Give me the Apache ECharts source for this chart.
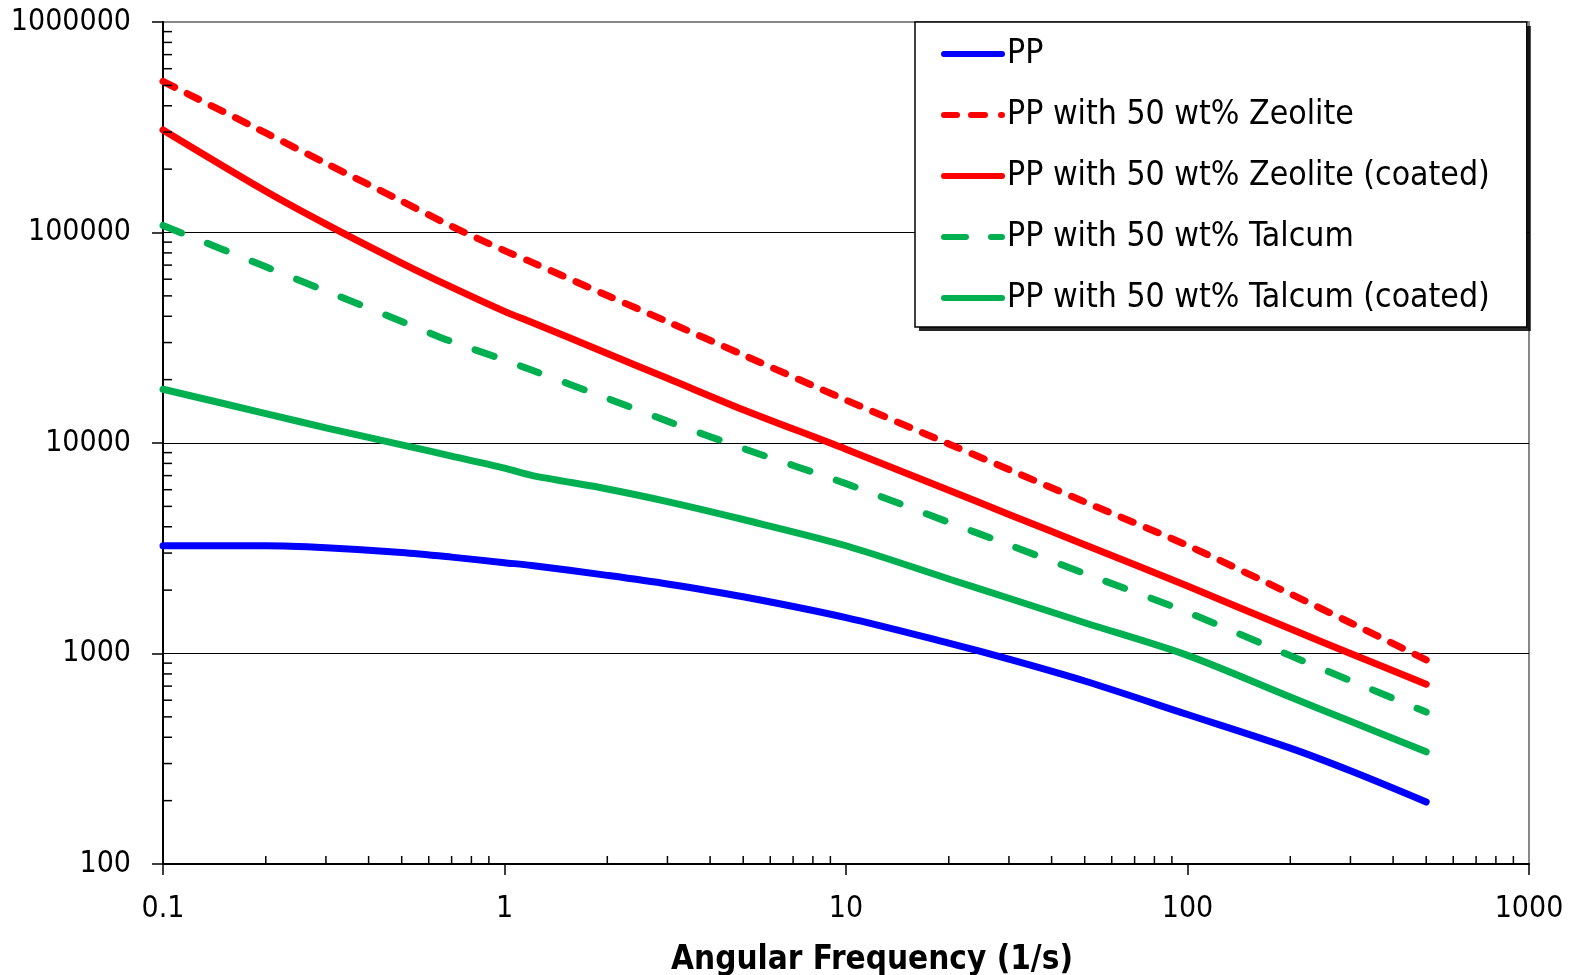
<!DOCTYPE html>
<html>
<head>
<meta charset="utf-8">
<script src="https://cdn.jsdelivr.net/npm/echarts@6/dist/echarts.min.js"></script>
<style>
  html, body { margin: 0; padding: 0; background: #fff; }
  #chart { width: 1583px; height: 975px; }
</style>
</head>
<body>
<div id="chart"></div>
<script>
// angular frequency (1/s)
const freq = [0.1, 0.2, 0.3, 0.5, 0.7, 1, 1.2, 2, 3, 5, 10, 20, 30, 50, 100, 200, 300, 500];

const pp = [3250, 3250, 3180, 3020, 2870, 2700, 2620, 2350, 2140, 1860, 1480, 1120, 940, 740, 513, 355, 277, 197];
const zeolite = [522000, 297000, 213000, 141000, 107000, 82000, 72300, 50200, 37700, 26200, 16000, 9900, 7480, 5250, 3260, 1920, 1400, 933];
const zeoliteCoated = [307000, 157000, 109600, 71600, 55000, 42200, 37500, 26600, 20300, 14400, 9350, 5960, 4580, 3290, 2090, 1310, 1000, 715];
const talcum = [108000, 68700, 52700, 37800, 30300, 24800, 22200, 16300, 12700, 9420, 6410, 4200, 3280, 2400, 1570, 977, 743, 527];
const talcumCoated = [18000, 13800, 11800, 9800, 8670, 7590, 7020, 6050, 5270, 4330, 3250, 2260, 1830, 1400, 980, 621, 476, 341];

const names = [
  'PP',
  'PP with 50 wt% Zeolite',
  'PP with 50 wt% Zeolite (coated)',
  'PP with 50 wt% Talcum',
  'PP with 50 wt% Talcum (coated)'
];

// minor tick values for both log axes
const xMinorTicks = [0.2, 0.3, 0.4, 0.5, 0.6, 0.7, 0.8, 0.9, 2, 3, 4, 5, 6, 7, 8, 9,
  20, 30, 40, 50, 60, 70, 80, 90, 200, 300, 400, 500, 600, 700, 800, 900];
const yMinorTicks = [200, 300, 400, 500, 600, 700, 800, 900, 2000, 3000, 4000, 5000, 6000, 7000, 8000, 9000,
  20000, 30000, 40000, 50000, 60000, 70000, 80000, 90000, 200000, 300000, 400000, 500000, 600000, 700000, 800000, 900000];

const font = '"DejaVu Sans Condensed", "DejaVu Sans", sans-serif';

// legend swatches (64 x 6 box): solid bar, short dashes + dot, long dash + dot
const iconSolid = 'path://M3,0 H61 A3,3 0 0 1 61,6 H3 A3,3 0 0 1 3,0 Z';
const iconShortDash = 'path://M3,0 H16 A3,3 0 0 1 16,6 H3 A3,3 0 0 1 3,0 Z M30,0 H44 A3,3 0 0 1 44,6 H30 A3,3 0 0 1 30,0 Z M60,0 H61 A3,3 0 0 1 61,6 H60 A3,3 0 0 1 60,0 Z';
const iconLongDash = 'path://M3,0 H25 A3,3 0 0 1 25,6 H3 A3,3 0 0 1 3,0 Z M50,0 H61 A3,3 0 0 1 61,6 H50 A3,3 0 0 1 50,0 Z';
const icons = [iconSolid, iconShortDash, iconSolid, iconLongDash, iconSolid];

const pairs = arr => freq.map((f, i) => [f, arr[i]]);

const lineSeries = (name, data, color, type) => ({
  name: name,
  type: 'line',
  data: pairs(data),
  symbol: 'none',
  smooth: 0.3,
  lineStyle: { color: color, width: 7, type: type, cap: 'round', join: 'round' },
  itemStyle: { color: color },
  z: 5
});

// shared legend layout; the first copy only casts the box shadow, the second draws border and items
const legendBase = {
  data: names.map((n, i) => ({ name: n, icon: icons[i] })),
  orient: 'vertical',
  left: 915,
  top: 22,
  itemWidth: 64,
  itemHeight: 6,
  itemGap: 27,
  padding: [15, 37, 12, 26],
  textStyle: { fontFamily: font, fontSize: 33.5, color: '#000', padding: [0, 0, 0, -3] }
};

const chart = echarts.init(document.getElementById('chart'));
const option = {
  animation: false,
  backgroundColor: '#fff',
  grid: {
    left: 163, right: 54, top: 22, bottom: 111,
    outerBoundsMode: 'none',
    show: true, borderColor: '#888', borderWidth: 2, backgroundColor: '#fff'
  },
  legend: [
    Object.assign({}, legendBase, {
      backgroundColor: '#fff',
      borderWidth: 0,
      shadowColor: 'rgba(0,0,0,0.85)',
      shadowOffsetX: 4,
      shadowOffsetY: 4,
      shadowBlur: 0,
      itemStyle: { opacity: 0 },
      textStyle: Object.assign({}, legendBase.textStyle, { color: 'rgba(0,0,0,0)' }),
      z: 9
    }),
    Object.assign({}, legendBase, {
      backgroundColor: 'rgba(0,0,0,0)',
      borderColor: '#000',
      borderWidth: 1.5,
      z: 10
    })
  ],
  xAxis: {
    type: 'log',
    logBase: 10,
    min: 0.1,
    max: 1000,
    name: 'Angular Frequency (1/s)',
    nameLocation: 'middle',
    nameGap: 80,
    nameTextStyle: { fontFamily: font, fontSize: 33, fontWeight: 'bold', color: '#000', padding: [0, 0, 0, 52] },
    axisLine: { lineStyle: { color: '#000', width: 2 } },
    axisTick: { show: true, inside: false, length: 11, lineStyle: { color: '#000', width: 1.5 } },
    axisLabel: {
      fontFamily: font, fontSize: 30, color: '#000', margin: 30,
      formatter: v => String(Number(v.toPrecision(3)))
    },
    splitLine: { show: false },
    minorTick: { show: false }
  },
  yAxis: {
    type: 'log',
    logBase: 10,
    min: 100,
    max: 1000000,
    axisLine: { lineStyle: { color: '#000', width: 2 } },
    axisTick: { show: true, inside: false, length: 11, lineStyle: { color: '#000', width: 1.5 } },
    axisLabel: {
      fontFamily: font, fontSize: 30, color: '#000', margin: 32,
      formatter: v => String(Math.round(v))
    },
    splitLine: { show: true, showMinLine: false, showMaxLine: false, lineStyle: { color: '#000', width: 1.2 } },
    minorTick: { show: false }
  },
  series: [
    lineSeries(names[0], pp, '#0000ff', 'solid'),
    lineSeries(names[1], zeolite, '#ff0000', [13, 14]),
    lineSeries(names[2], zeoliteCoated, '#ff0000', 'solid'),
    lineSeries(names[3], talcum, '#00b050', [20, 28]),
    lineSeries(names[4], talcumCoated, '#00b050', 'solid'),
    {
      name: 'xMinor',
      type: 'custom',
      silent: true,
      clip: false,
      data: xMinorTicks.map(v => [v, 100]),
      renderItem: (params, api) => {
        const p = api.coord([api.value(0), api.value(1)]);
        return {
          type: 'line',
          shape: { x1: p[0], y1: p[1], x2: p[0], y2: p[1] - 8 },
          style: { stroke: '#000', lineWidth: 1.5 }
        };
      },
      z: 6
    },
    {
      name: 'yMinor',
      type: 'custom',
      silent: true,
      clip: false,
      data: yMinorTicks.map(v => [0.1, v]),
      renderItem: (params, api) => {
        const p = api.coord([api.value(0), api.value(1)]);
        return {
          type: 'line',
          shape: { x1: p[0], y1: p[1], x2: p[0] + 9, y2: p[1] },
          style: { stroke: '#000', lineWidth: 1.5 }
        };
      },
      z: 6
    }
  ]
};
chart.setOption(option);
</script>
</body>
</html>
